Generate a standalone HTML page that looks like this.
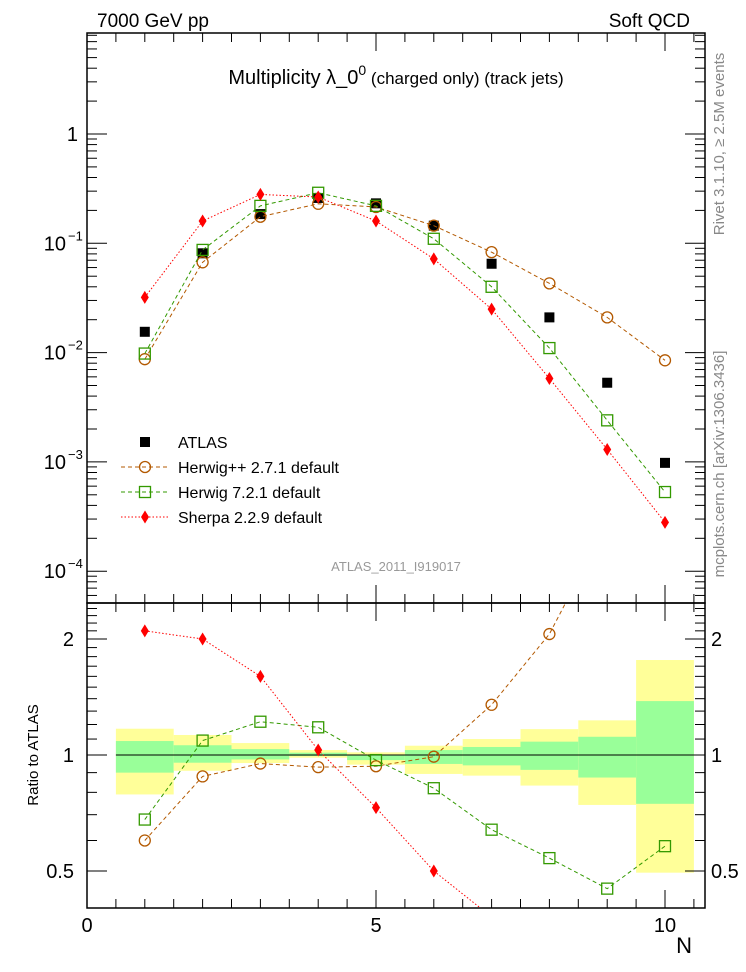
<!DOCTYPE html>
<html><head><meta charset="utf-8"><style>
html,body{margin:0;padding:0;background:#fff}
svg{display:block;font-family:"Liberation Sans",sans-serif}
</style></head><body>
<svg id="c" width="746" height="972" viewBox="0 0 746 972" xmlns="http://www.w3.org/2000/svg">
<text x="97" y="27" font-size="19">7000 GeV pp</text>
<text x="690" y="27" font-size="19" text-anchor="end">Soft QCD</text>
<text x="396" y="84" font-size="20" text-anchor="middle">Multiplicity  λ_0<tspan font-size="14" dy="-9">0</tspan><tspan font-size="17" dy="9"> (charged only) (track jets)</tspan></text>
<text x="396" y="571" font-size="13" fill="#999" text-anchor="middle">ATLAS_2011_I919017</text>
<text transform="translate(724,144) rotate(-90)" font-size="15" fill="#888" text-anchor="middle">Rivet 3.1.10, ≥ 2.5M events</text>
<text transform="translate(724,464) rotate(-90)" font-size="15" fill="#888" text-anchor="middle">mcplots.cern.ch [arXiv:1306.3436]</text>
<text transform="translate(38,755) rotate(-90)" font-size="15" text-anchor="middle">Ratio to ATLAS</text>
<text x="692" y="953" font-size="22" text-anchor="end">N</text>
<g id="bands"></g><g id="axes"></g><g id="series"></g><g id="legend"></g>
</svg>
<script>
const xs = [1,2,3,4,5,6,7,8,9,10];
const atlas = [0.0155,0.081,0.185,0.26,0.232,0.145,0.065,0.021,0.0053,0.00098];
const herwigpp = [0.0087,0.067,0.175,0.23,0.215,0.145,0.083,0.043,0.021,0.0085];
const herwig7 = [0.0098,0.087,0.22,0.29,0.22,0.11,0.04,0.011,0.0024,0.00053];
const sherpa = [0.032,0.16,0.28,0.265,0.16,0.072,0.025,0.0058,0.0013,0.00028];
const ratioHpp = [0.6,0.88,0.95,0.93,0.935,0.99,1.35,2.06,4.0,8.7];
const ratioH7 = [0.68,1.09,1.22,1.18,0.97,0.82,0.64,0.54,0.45,0.58];
const ratioSh = [2.1,2.0,1.6,1.03,0.73,0.5,0.38,0.28,0.25,0.29];
const bandYelLo = [0.79,0.91,0.953,0.984,0.944,0.893,0.884,0.833,0.742,0.495];
const bandYelHi = [1.17,1.127,1.074,1.03,1.016,1.057,1.1,1.167,1.23,1.764];
const bandGrnLo = [0.90,0.955,0.974,0.994,0.97,0.948,0.94,0.915,0.874,0.747];
const bandGrnHi = [1.087,1.06,1.036,1.014,1.002,1.03,1.049,1.083,1.115,1.38];
const mainTicks = [[1,'1'],[0.1,'10'],[0.01,'10'],[0.001,'10'],[0.0001,'10']];
const mainExp = ['', '−1','−2','−3','−4'];
const ratioTicks = [[2,'2'],[1,'1'],[0.5,'0.5']];
const xTicks = [0,5,10];

const NS='http://www.w3.org/2000/svg';
const L=87,R=705,T=33,MB=603,RB=908;
const X=v=>L+(v)*57.8;
const YM=v=>134-Math.log10(v)*109.3;
const YR=v=>755-Math.log2(v)*116;
function mk(tag,at,par){const e=document.createElementNS(NS,tag);for(const k in at)e.setAttribute(k,at[k]);document.getElementById(par).appendChild(e);return e;}

for(let i=0;i<xs.length;i++){
  let e=mk('rect',{x:X(xs[i]-0.5),y:YR(bandYelHi[i]),width:57.8,height:YR(bandYelLo[i])-YR(bandYelHi[i]),fill:'#ffff99'},'bands');
  
  
  e=mk('rect',{x:X(xs[i]-0.5),y:YR(bandGrnHi[i]),width:57.8,height:YR(bandGrnLo[i])-YR(bandGrnHi[i]),fill:'#99ff99'},'bands');
  
  
}
let rl=mk('line',{x1:X(0.5),x2:X(10.5),y1:YR(1),y2:YR(1),stroke:'#000','stroke-width':1},'bands');



let f=mk('rect',{x:L,y:T,width:R-L,height:MB-T,fill:'none',stroke:'#000','stroke-width':1.5},'axes');


f=mk('rect',{x:L,y:MB,width:R-L,height:RB-MB,fill:'none',stroke:'#000','stroke-width':1.5},'axes');



for(let v=0;v<=10.5;v+=0.5){
  const maj=(v%5===0), len=maj?18:9;
  [T,MB].forEach(y0=>{mk('line',{x1:X(v),x2:X(v),y1:y0,y2:y0+len,stroke:'#000'},'axes');});
  [MB,RB].forEach(y0=>{mk('line',{x1:X(v),x2:X(v),y1:y0,y2:y0-len,stroke:'#000'},'axes');});
}
xTicks.forEach(v=>{const t=mk('text',{x:X(v),y:932,'font-size':20,'text-anchor':'middle'},'axes');t.textContent=v;
  
  });

for(let d=-5;d<=0;d++){for(let m=1;m<=9;m++){const v=m*Math.pow(10,d);const y=YM(v);if(y<T||y>MB)continue;
  const len=m===1?20:10;
  mk('line',{x1:L,x2:L+len,y1:y,y2:y,stroke:'#000'},'axes');mk('line',{x1:R,x2:R-len,y1:y,y2:y,stroke:'#000'},'axes');}}
mainTicks.forEach((t,i)=>{const e=mk('text',{x:i===0?78:66,y:YM(t[0])+7,'font-size':20,'text-anchor':'end'},'axes');e.textContent=t[1];
  
  
  if(mainExp[i]){const s=mk('text',{x:68,y:YM(t[0])-3,'font-size':13},'axes');s.textContent=mainExp[i];
  
  }});

[0.4,0.5,0.6,0.7,0.8,0.9,1,1.1,1.2,1.3,1.4,1.5,1.6,1.7,1.8,1.9,2,2.1,2.2,2.3,2.4].forEach(v=>{const y=YR(v);if(y<MB||y>RB)return;
  const len=(v===0.5||v===1||v===2)?20:10;
  mk('line',{x1:L,x2:L+len,y1:y,y2:y,stroke:'#000'},'axes');mk('line',{x1:R,x2:R-len,y1:y,y2:y,stroke:'#000'},'axes');});
ratioTicks.forEach(t=>{let e=mk('text',{x:74,y:YR(t[0])+7,'font-size':20,'text-anchor':'end'},'axes');e.textContent=t[1];
  
  
  e=mk('text',{x:711,y:YR(t[0])+7,'font-size':20},'axes');e.textContent=t[1];
  
  });

const defs=mk('defs',{},'series');
const c1=document.createElementNS(NS,'clipPath');c1.id='cm';defs.appendChild(c1);
const r1=document.createElementNS(NS,'rect');r1.setAttribute('x',L);r1.setAttribute('y',T);r1.setAttribute('width',R-L);r1.setAttribute('height',MB-T);c1.appendChild(r1);
const c2=document.createElementNS(NS,'clipPath');c2.id='cr';defs.appendChild(c2);
const r2=document.createElementNS(NS,'rect');r2.setAttribute('x',L);r2.setAttribute('y',MB);r2.setAttribute('width',R-L);r2.setAttribute('height',RB-MB);c2.appendChild(r2);

function marker(kind,cx,cy,col,g){
  if(kind==='circle'){mk('circle',{cx:cx,cy:cy,r:5.5,fill:'none',stroke:col,'stroke-width':1.3},g);}
  else if(kind==='square'){mk('rect',{x:cx-5.5,y:cy-5.5,width:11,height:11,fill:'none',stroke:col,'stroke-width':1.3},g);}
  else if(kind==='diamond'){mk('path',{d:`M${cx},${cy-6.5}L${cx+4},${cy}L${cx},${cy+6.5}L${cx-4},${cy}Z`,fill:col},g);}
  else {mk('rect',{x:cx-5,y:cy-5,width:10,height:10,fill:col},g);}
}
function series(name,vals,Y,col,dash,kind,clip){
  const g=mk('g',{'clip-path':`url(#${clip})`,id:name},'series');
  
  
  if(dash){mk('polyline',{points:xs.map((x,i)=>X(x)+','+Y(vals[i])).join(' '),fill:'none',stroke:col,'stroke-width':1,'stroke-dasharray':dash},name);}
  xs.forEach((x,i)=>marker(kind,X(x),Y(vals[i]),col,name));
}
series('atlas-data',atlas,YM,'#000',null,'fill','cm');
series('herwigpp-main',herwigpp,YM,'#b35900','4,3','circle','cm');
series('herwig7-main',herwig7,YM,'#339900','4,3','square','cm');
series('sherpa-main',sherpa,YM,'#ff0000','1.5,2','diamond','cm');
series('herwigpp-ratio',ratioHpp,YR,'#b35900','4,3','circle','cr');
series('herwig7-ratio',ratioH7,YR,'#339900','4,3','square','cr');
series('sherpa-ratio',ratioSh,YR,'#ff0000','1.5,2','diamond','cr');

const leg=[['ATLAS','#000',null,'fill'],['Herwig++ 2.7.1 default','#b35900','4,3','circle'],['Herwig 7.2.1 default','#339900','4,3','square'],['Sherpa 2.2.9 default','#ff0000','1.5,2','diamond']];
leg.forEach((l,i)=>{const y=442+i*25;
  const g=mk('g',{id:'leg'+i},'legend');
  
  
  if(l[2])mk('line',{x1:121,x2:168,y1:y,y2:y,stroke:l[1],'stroke-dasharray':l[2]},'leg'+i);
  marker(l[3],145,y,l[1],'leg'+i);
  const t=mk('text',{x:178,y:y+6,'font-size':16},'leg'+i);t.textContent=l[0];});
</script>
</body></html>
